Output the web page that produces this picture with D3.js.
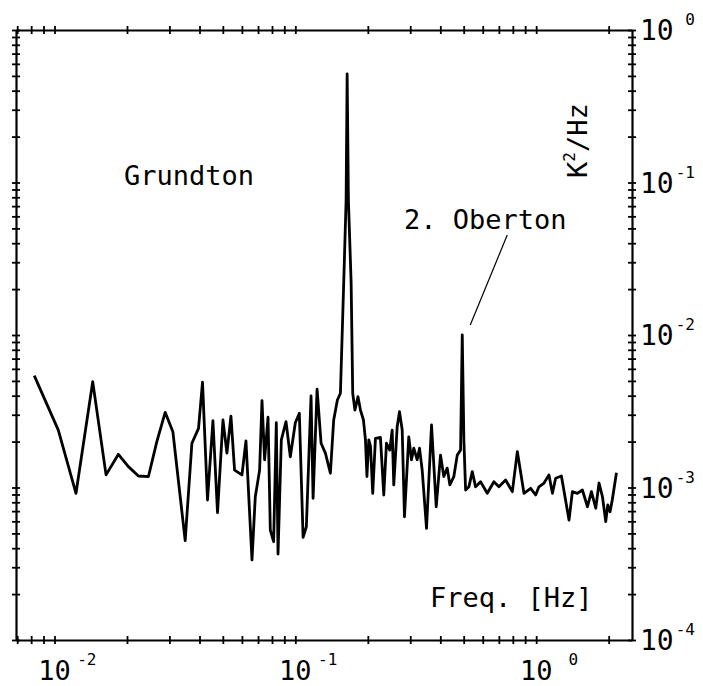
<!DOCTYPE html>
<html><head><meta charset="utf-8">
<script src="https://cdn.jsdelivr.net/npm/d3@7"></script>
<style>
body{margin:0;background:#fff;}
svg{display:block;}
text{font-family:"DejaVu Sans Mono",monospace;fill:#000;}
</style></head><body>
<svg id="chart" width="703" height="686"></svg>
<script>
// ---- data ----
const freq = [0.00824,0.01037,0.01228,0.01441,0.01637,0.01842,0.02027,0.02231,0.02455,0.0266,
0.02881,0.03101,0.03488,0.0372,0.03963,0.04117,0.04318,0.04548,0.04752,0.05005,
0.052,0.05403,0.05593,0.06003,0.06237,0.06607,0.06819,0.07106,0.0727,0.07454,
0.07702,0.07872,0.08126,0.08337,0.08475,0.08746,0.09147,0.09532,0.1,0.1039,
0.1077,0.1111,0.1162,0.1185,0.1231,0.1279,0.1333,0.1398,0.1443,0.1495,
0.1539,0.1588,0.1625,0.1641,0.1661,0.1705,0.1731,0.1768,0.182,0.1864,
0.1918,0.1955,0.1983,0.2018,0.2051,0.2096,0.2151,0.2256,0.2329,0.239,
0.2467,0.2524,0.2563,0.2648,0.2707,0.2778,0.2839,0.2958,0.3036,0.3103,
0.3206,0.3278,0.3363,0.3505,0.3677,0.3846,0.4007,0.4136,0.4273,0.4381,
0.4552,0.4702,0.4854,0.4933,0.501,0.5093,0.5256,0.5429,0.5603,0.5877,
0.6266,0.6674,0.7002,0.7467,0.7962,0.8352,0.8899,0.9487,0.9952,1.027,
1.078,1.13,1.168,1.205,1.273,1.369,1.414,1.483,1.556,1.633,
1.696,1.768,1.824,1.885,1.945,1.983,2.027,2.07,2.155];
const psd = [5.41e-3,2.38e-3,9.16e-4,4.94e-3,1.21e-3,1.65e-3,1.37e-3,1.19e-3,1.18e-3,2.00e-3,
3.11e-3,2.32e-3,4.48e-4,1.95e-3,2.44e-3,4.90e-3,8.28e-4,2.74e-3,6.84e-4,2.77e-3,
1.68e-3,2.94e-3,1.30e-3,1.21e-3,2.02e-3,3.35e-4,8.70e-4,1.30e-3,3.71e-3,1.52e-3,
2.89e-3,5.26e-4,4.41e-4,2.66e-3,3.66e-4,2.05e-3,2.70e-3,1.59e-3,2.66e-3,3.07e-3,
4.71e-4,5.53e-4,3.98e-3,8.50e-4,4.41e-3,1.95e-3,1.68e-3,1.24e-3,2.77e-3,3.75e-3,
4.15e-3,2.19e-2,7.67e-2,0.515,7.67e-2,2.19e-2,4.15e-3,3.22e-3,3.94e-3,3.22e-3,
2.77e-3,2.05e-3,1.18e-3,2.05e-3,1.87e-3,9.16e-4,2.10e-3,2.13e-3,8.93e-4,1.95e-3,
1.76e-3,2.38e-3,1.04e-3,2.50e-3,3.14e-3,2.38e-3,6.43e-4,2.15e-3,1.52e-3,1.81e-3,
1.52e-3,1.81e-3,1.30e-3,5.40e-4,2.57e-3,7.48e-4,1.63e-3,1.18e-3,1.34e-3,1.04e-3,
1.18e-3,1.63e-3,1.76e-3,1.00e-2,2.05e-3,9.63e-4,1.01e-3,1.27e-3,1.01e-3,1.09e-3,
9.16e-4,1.09e-3,1.01e-3,1.12e-3,9.39e-4,1.72e-3,9.16e-4,9.88e-4,8.93e-4,1.01e-3,
1.07e-3,1.21e-3,9.16e-4,1.15e-3,1.19e-3,6.12e-4,9.39e-4,9.16e-4,9.63e-4,7.48e-4,
9.39e-4,7.31e-4,1.07e-3,8.70e-4,5.97e-4,7.68e-4,6.94e-4,8.28e-4,1.25e-3];

const xDomain = [0.00692, 2.5];
const yDomain = [1e-4, 1];
const xTicks = [0.007,0.008,0.009,0.01,0.02,0.03,0.04,0.05,0.06,0.07,0.08,0.09,0.1,0.2,0.3,0.4,0.5,0.6,0.7,0.8,0.9,1,2];
const yTicks = [];
[1e-4,1e-3,1e-2,1e-1].forEach(d => { for (let m = 1; m < 10; m++) yTicks.push(+(m*d).toPrecision(3)); });
yTicks.push(1);
const xLabelValues = [0.01, 0.1, 1];
const xLabelExps = ["-2", "-1", "0"];
const yLabelValues = [1, 0.1, 0.01, 0.001, 0.0001];
const yLabelExps = ["0", "-1", "-2", "-3", "-4"];
const annotGrund = "Grundton";
const annotOber = "2. Oberton";
const oberFreq = 0.4933, oberValue = 1.00e-2;
const xTitle = "Freq. [Hz]";

// ---- layout ----
const L = 16, R = 632, T = 30, B = 640;
const svg = d3.select("#chart");
const x = d3.scaleLog().domain(xDomain).range([L, R]);
const y = d3.scaleLog().domain(yDomain).range([B, T]);

function styleAxis(g, horizontal) {
  g.select(".domain").attr("stroke", "#000").attr("stroke-width", 2.2);
  g.selectAll(".tick line").attr("stroke", "#000").attr("stroke-width", 1.8);
  if (horizontal) g.selectAll(".tick line").attr("y1", -4).attr("y2", 4);
  else g.selectAll(".tick line").attr("x1", -4).attr("x2", 4);
  g.selectAll(".tick text").remove();
}
svg.append("g").attr("transform", `translate(0,${B})`)
  .call(d3.axisBottom(x).tickValues(xTicks).tickSizeOuter(0).tickFormat(""))
  .call(g => styleAxis(g, true));
svg.append("g").attr("transform", `translate(0,${T})`)
  .call(d3.axisTop(x).tickValues(xTicks).tickSizeOuter(0).tickFormat(""))
  .call(g => styleAxis(g, true));
svg.append("g").attr("transform", `translate(${L},0)`)
  .call(d3.axisLeft(y).tickValues(yTicks).tickSizeOuter(0).tickFormat(""))
  .call(g => styleAxis(g, false));
svg.append("g").attr("transform", `translate(${R},0)`)
  .call(d3.axisRight(y).tickValues(yTicks).tickSizeOuter(0).tickFormat(""))
  .call(g => styleAxis(g, false));

// ---- tick labels ----
const xl = svg.append("g");
xLabelValues.forEach((v, i) => {
  xl.append("text").attr("x", x(v)).attr("y", 680).attr("text-anchor", "middle")
    .attr("font-size", 27).text("10");
  xl.append("text").attr("x", x(v) + 42).attr("y", 665).attr("text-anchor", "end")
    .attr("font-size", 16).text(xLabelExps[i]);
});
const yl = svg.append("g");
yLabelValues.forEach((v, i) => {
  yl.append("text").attr("x", 640).attr("y", y(v) + 10).attr("font-size", 28).text("10");
  yl.append("text").attr("x", 695).attr("y", y(v) - 5).attr("text-anchor", "end")
    .attr("font-size", 16).text(yLabelExps[i]);
});

// ---- data line ----
const pts = freq.map((f, i) => [f, psd[i]]);
svg.append("path").datum(pts)
  .attr("fill", "none").attr("stroke", "#000").attr("stroke-width", 2.8)
  .attr("stroke-linejoin", "round")
  .attr("d", d3.line().x(d => x(d[0])).y(d => y(d[1])));

// ---- annotations ----
svg.append("text").attr("x", 124).attr("y", 185).attr("font-size", 27).text(annotGrund);
svg.append("text").attr("x", 404).attr("y", 229).attr("font-size", 27).text(annotOber);
svg.append("line")
  .attr("x1", x(oberFreq) + 8).attr("y1", y(oberValue) - 10)
  .attr("x2", x(oberFreq) + 45).attr("y2", y(oberValue) - 100)
  .attr("stroke", "#000").attr("stroke-width", 1.2);
svg.append("text").attr("x", 430).attr("y", 607).attr("font-size", 27).text(xTitle);

const yt = svg.append("text").attr("transform", "translate(587,178) rotate(-90)").attr("font-size", 27);
yt.append("tspan").text("K");
yt.append("tspan").attr("font-size", 16).attr("dy", -12).text("2");
yt.append("tspan").attr("dy", 12).text("/Hz");
</script>
</body></html>
